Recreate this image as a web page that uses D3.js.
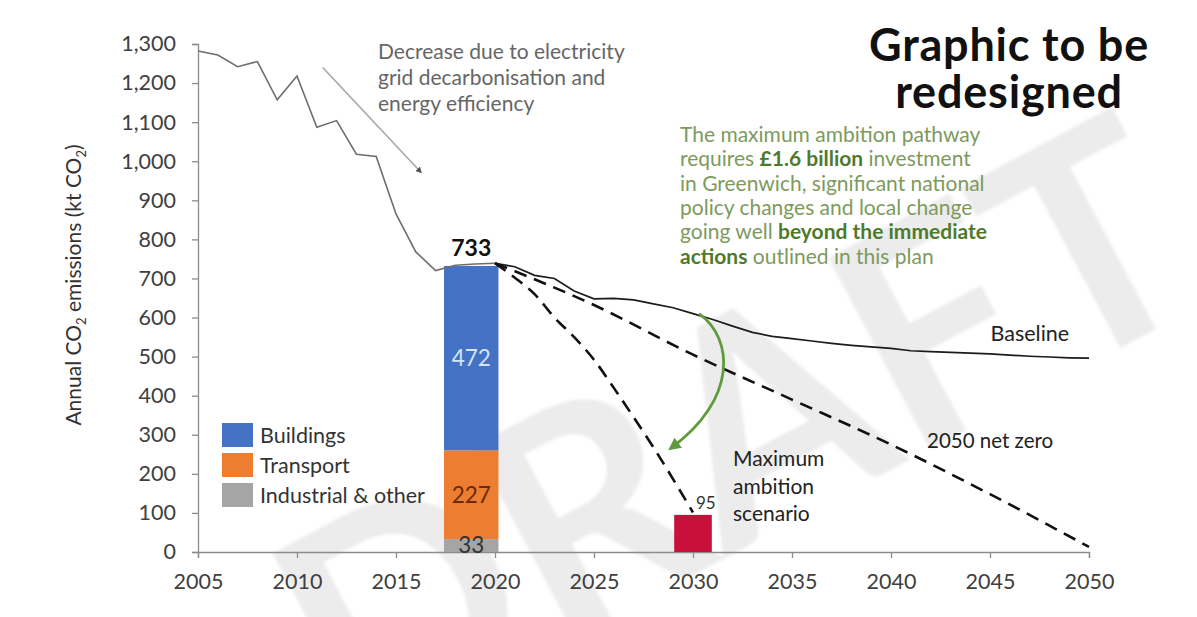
<!DOCTYPE html>
<html>
<head>
<meta charset="utf-8">
<script src="https://cdn.jsdelivr.net/npm/d3@7"></script>
<style>
  html, body { margin: 0; padding: 0; background: #fff; }
  svg { display: block; }
  text { font-family: Lato, "Open Sans", sans-serif; }
</style>
</head>
<body>
<svg id="chart" width="1197" height="617"></svg>
<script>
// ---- data ----
const xTickYears = [2005, 2010, 2015, 2020, 2025, 2030, 2035, 2040, 2045, 2050];
const yTickValues = [0, 100, 200, 300, 400, 500, 600, 700, 800, 900, 1000, 1100, 1200, 1300];

// historic emissions (kt CO2)
const historicYears  = [2005, 2006, 2007, 2008, 2009, 2010, 2011, 2012, 2013, 2014, 2015, 2016, 2017, 2018, 2019, 2020];
const historicValues = [1282, 1272, 1242, 1255, 1157, 1218, 1087, 1104, 1018, 1012, 865, 768, 720, 734, 737, 739];

// baseline projection
const baselineYears  = [2020, 2021, 2022, 2023, 2024, 2025, 2026, 2027, 2028, 2029, 2030, 2031, 2032, 2033, 2034, 2035,
                        2036, 2037, 2038, 2039, 2040, 2041, 2042, 2043, 2044, 2045, 2046, 2047, 2048, 2049, 2050];
const baselineValues = [739, 730, 708, 700, 668, 648, 649, 645, 635, 625, 610, 595, 578, 562, 552, 546,
                        540, 534, 529, 525, 521, 515, 513, 511, 509, 507, 504, 501, 499, 497, 496];

// 2050 net zero pathway
const netZeroYears  = [2020, 2025, 2030, 2035, 2040, 2045, 2050];
const netZeroValues = [739, 632, 505, 390, 275, 148, 13];

// maximum ambition pathway
const maxAmbitionYears  = [2020, 2021, 2022, 2023, 2024, 2025, 2026, 2027, 2028, 2029, 2030];
const maxAmbitionValues = [739, 702, 660, 600, 550, 492, 420, 345, 268, 186, 101];

// sector breakdown of current emissions
const sectors      = ["Industrial & other", "Transport", "Buildings"];
const sectorValues = [33, 227, 472];
const sectorColors = ["#a5a5a5", "#ed7d31", "#4472c4"];
const sectorLabelColors = ["#333333", "#6b2a05", "#d6e4f7"];
const totalLabel = "733";
const barCentreYear = 2018.8;
const barWidthYears = 2.75;

// maximum ambition scenario in 2030
const scenarioYear = 2030;
const scenarioValue = 95;
const scenarioColor = "#c8103a";
const scenarioWidthYears = 1.9;

// legend entries (top to bottom)
const legendLabels = ["Buildings", "Transport", "Industrial & other"];
const legendColors = ["#4472c4", "#ed7d31", "#a5a5a5"];

// ---- layout ----
const svg = d3.select("#chart");
const x = d3.scaleLinear().domain([2005, 2050]).range([198, 1089]);
const y = d3.scaleLinear().domain([0, 1300]).range([552, 44]);

const defs = svg.append("defs");
defs.append("filter").attr("id", "soft")
  .append("feGaussianBlur").attr("stdDeviation", 1.6);
defs.append("marker").attr("id", "arrowGrey")
  .attr("viewBox", "0 0 10 10").attr("refX", 5).attr("refY", 5)
  .attr("markerWidth", 4).attr("markerHeight", 4).attr("orient", "auto")
  .append("path").attr("d", "M0,0 L10,5 L0,10 z").attr("fill", "#555");
defs.append("marker").attr("id", "arrowGreen")
  .attr("viewBox", "0 0 10 10").attr("refX", 6).attr("refY", 5)
  .attr("markerWidth", 4.5).attr("markerHeight", 4.5).attr("orient", "auto")
  .append("path").attr("d", "M0,0 L10,5 L0,10 z").attr("fill", "#5f9b3c");

// watermark
svg.append("text")
  .attr("transform", "translate(353,756) rotate(-28)")
  .attr("font-family", "'Liberation Sans', Arial, sans-serif")
  .attr("font-weight", "bold")
  .attr("font-size", 300)
  .attr("fill", "#ececec")
  .attr("filter", "url(#soft)")
  .text("DRAFT");

// axes
const xAxis = svg.append("g").attr("transform", `translate(0,${y(0)})`)
  .call(d3.axisBottom(x).tickValues(xTickYears).tickFormat(d3.format("d")).tickSize(6).tickPadding(16));
const yAxis = svg.append("g").attr("transform", `translate(${x(2005)},0)`)
  .call(d3.axisLeft(y).tickValues(yTickValues).tickFormat(d3.format(",")).tickSize(6).tickPadding(16));
[xAxis, yAxis].forEach(g => {
  g.select(".domain").attr("stroke", "#8c8c8c").attr("stroke-width", 1.3);
  g.selectAll(".tick line").attr("stroke", "#8c8c8c").attr("stroke-width", 1.3);
  g.selectAll(".tick text").attr("fill", "#404040").attr("font-size", 21.5)
    .attr("font-family", "Lato, sans-serif");
});

// y axis title
const yTitle = svg.append("text")
  .attr("transform", `translate(81,285) rotate(-90)`)
  .attr("text-anchor", "middle").attr("font-size", 21).attr("fill", "#333");
yTitle.append("tspan").text("Annual CO");
yTitle.append("tspan").attr("font-size", 13).attr("dy", 5).text("2");
yTitle.append("tspan").attr("dy", -5).text(" emissions (kt CO");
yTitle.append("tspan").attr("font-size", 13).attr("dy", 5).text("2");
yTitle.append("tspan").attr("dy", -5).text(")");

// stacked bar
const stackTops = d3.cumsum(sectorValues);
const bx0 = x(barCentreYear - barWidthYears / 2), bx1 = x(barCentreYear + barWidthYears / 2);
svg.append("g").selectAll("rect").data(sectorValues).join("rect")
  .attr("x", bx0).attr("width", bx1 - bx0)
  .attr("y", (d, i) => y(stackTops[i]))
  .attr("height", d => y(0) - y(d))
  .attr("fill", (d, i) => sectorColors[i]);

// scenario bar
const sx0 = x(scenarioYear - scenarioWidthYears / 2), sx1 = x(scenarioYear + scenarioWidthYears / 2);
svg.append("rect")
  .attr("x", sx0).attr("width", sx1 - sx0)
  .attr("y", y(scenarioValue)).attr("height", y(0) - y(scenarioValue))
  .attr("fill", scenarioColor);

// lines
const line = d3.line().x(d => x(d[0])).y(d => y(d[1]));
const zip = (a, b) => a.map((v, i) => [v, b[i]]);
svg.append("path").datum(zip(historicYears, historicValues))
  .attr("d", line).attr("fill", "none").attr("stroke", "#6e6e6e").attr("stroke-width", 1.6);
svg.append("path").datum(zip(baselineYears, baselineValues))
  .attr("d", line).attr("fill", "none").attr("stroke", "#1c1c1c").attr("stroke-width", 1.7);
const smooth = d3.line().curve(d3.curveMonotoneX).x(d => x(d[0])).y(d => y(d[1]));
svg.append("path").datum(zip(netZeroYears, netZeroValues))
  .attr("d", smooth).attr("fill", "none").attr("stroke", "#111").attr("stroke-width", 2.6)
  .attr("stroke-dasharray", "13,8");
svg.append("path").datum(zip(maxAmbitionYears, maxAmbitionValues))
  .attr("d", smooth).attr("fill", "none").attr("stroke", "#111").attr("stroke-width", 2.6)
  .attr("stroke-dasharray", "13,8");

// bar labels
const barMid = (bx0 + bx1) / 2;
svg.append("text").attr("x", barMid).attr("y", y(stackTops[2]) - 10)
  .attr("text-anchor", "middle").attr("font-size", 23).attr("font-weight", "bold").attr("fill", "#111")
  .text(totalLabel);
svg.append("g").selectAll("text").data(sectorValues).join("text")
  .attr("x", barMid)
  .attr("y", (d, i) => i === 0 ? y(0) + 1 : y(stackTops[i] - d / 2) + 8)
  .attr("text-anchor", "middle").attr("font-size", 22.5)
  .attr("fill", (d, i) => sectorLabelColors[i])
  .text(d => d);
svg.append("text").attr("x", x(scenarioYear) + 3).attr("y", y(scenarioValue) - 6)
  .attr("font-size", 17).attr("fill", "#333").text(scenarioValue);

// legend
const legend = svg.append("g").attr("transform", "translate(222,423)");
legendLabels.forEach((lab, i) => {
  legend.append("rect").attr("x", 0).attr("y", i * 30).attr("width", 31).attr("height", 24)
    .attr("fill", legendColors[i]);
  legend.append("text").attr("x", 38).attr("y", i * 30 + 20)
    .attr("font-size", 21.5).attr("fill", "#333").text(lab);
});

// series labels
svg.append("text").attr("x", x(2049)).attr("y", y(540)).attr("text-anchor", "end")
  .attr("font-size", 21.5).attr("fill", "#222").text("Baseline");
svg.append("text").attr("x", 927).attr("y", y(265)).attr("font-size", 20.5)
  .attr("fill", "#222").text("2050 net zero");
const scen = svg.append("text").attr("font-size", 21).attr("fill", "#222");
["Maximum", "ambition", "scenario"].forEach((t, i) => {
  scen.append("tspan").attr("x", 733).attr("y", y(220) + i * 27.5).text(t);
});

// grey annotation arrow and note
svg.append("line")
  .attr("x1", x(2011.3)).attr("y1", y(1240))
  .attr("x2", x(2016.2)).attr("y2", y(975))
  .attr("stroke", "#a8a8a8").attr("stroke-width", 1.6)
  .attr("marker-end", "url(#arrowGrey)");
const note = svg.append("text").attr("font-size", 21).attr("fill", "#666");
["Decrease due to electricity", "grid decarbonisation and", "energy efficiency"].forEach((t, i) => {
  note.append("tspan").attr("x", 378).attr("y", 59 + i * 26).text(t);
});

// green annotation
const green = svg.append("text").attr("font-size", 21).attr("fill", "#7d9a5c");
const greenLines = [
  [["The maximum ambition pathway", false]],
  [["requires ", false], ["£1.6 billion", true], [" investment", false]],
  [["in Greenwich, significant national", false]],
  [["policy changes and local change", false]],
  [["going well ", false], ["beyond the immediate", true]],
  [["actions", true], [" outlined in this plan", false]]
];
greenLines.forEach((parts, i) => {
  parts.forEach((p, j) => {
    const t = green.append("tspan").text(p[0]);
    if (j === 0) t.attr("x", 680).attr("y", 142 + i * 24.3);
    if (p[1]) t.attr("font-weight", "bold").attr("fill", "#4f7a2c");
  });
});

// curved green arrow towards the maximum ambition pathway
const arc = d3.path();
arc.moveTo(x(2030.3), y(610));
arc.bezierCurveTo(x(2032.1), y(545), x(2032.2), y(390), x(2028.95), y(268));
svg.append("path").attr("d", arc.toString()).attr("fill", "none")
  .attr("stroke", "#5f9b3c").attr("stroke-width", 2.8)
  .attr("marker-end", "url(#arrowGreen)");

// heading
const head = svg.append("text").attr("text-anchor", "middle").attr("font-size", 45)
  .attr("font-weight", "bold").attr("letter-spacing", 0.8).attr("fill", "#111");
head.append("tspan").attr("x", 1009).attr("y", 61).text("Graphic to be");
head.append("tspan").attr("x", 1009).attr("y", 108).text("redesigned");
</script>
</body>
</html>
